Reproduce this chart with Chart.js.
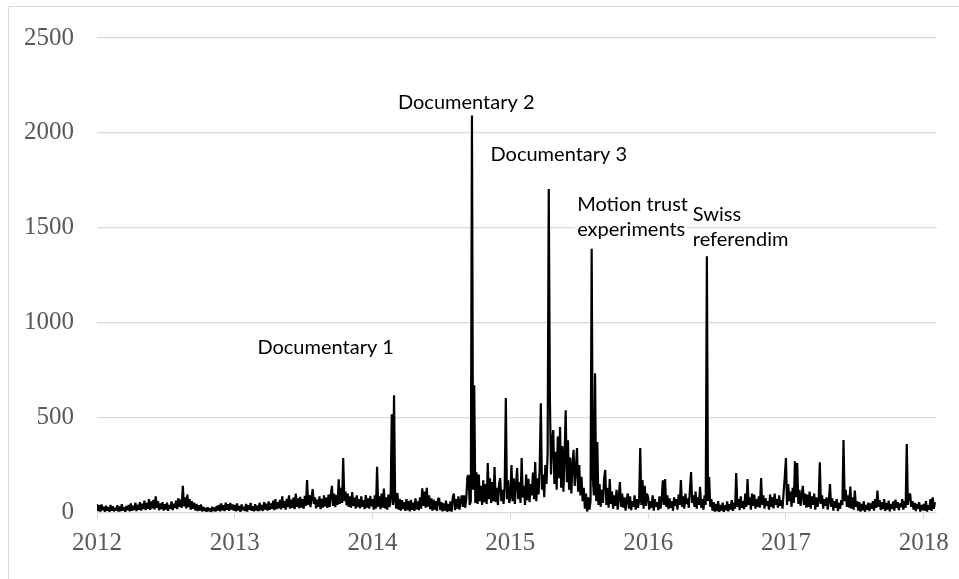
<!DOCTYPE html>
<html>
<head>
<meta charset="utf-8">
<script src="https://cdn.jsdelivr.net/npm/chart.js@4/dist/chart.umd.min.js"></script>
<style>
  html, body { margin: 0; padding: 0; background: #fff; }
  #frame { position: absolute; left: 8px; top: 6px; width: 960px; height: 590px; border: 1px solid #d9d9d9; }
  #chart { position: absolute; left: 0; top: 0; }
</style>
</head>
<body>
<div id="frame"></div>
<canvas id="chart" width="959" height="579"></canvas>
<script>
// roughly every third day, 122 readings per year
const PER_YEAR = 122;
const years = [2012, 2013, 2014, 2015, 2016, 2017, 2018];

const v2012 = [
  45, 8, 38, 5, 42, 12, 30, 4, 36, 10,
  28, 3, 40, 9, 33, 6, 25, 11, 38, 5,
  31, 7, 44, 10, 27, 4, 35, 12, 40, 6,
  48, 9, 36, 14, 52, 8, 41, 15, 55, 10,
  46, 18, 62, 12, 50, 20, 70, 14, 58, 22,
  66, 16, 85, 25, 60, 12, 48, 18, 55, 10,
  44, 15, 52, 9, 40, 20, 58, 13, 47, 24,
  62, 18, 75, 30, 68, 25, 140, 32, 80, 22,
  95, 28, 70, 15, 60, 20, 52, 12, 45, 8,
  38, 10, 42, 6, 30, 9, 25, 4, 28, 7,
  22, 3, 30, 8, 26, 5, 35, 10, 40, 6,
  48, 12, 38, 8, 52, 14, 44, 9, 50, 16, 42, 10
];
const v2013 = [
  40, 6, 48, 10, 35, 4, 42, 12, 30, 8,
  45, 5, 38, 14, 50, 9, 33, 6, 44, 11,
  36, 7, 52, 12, 40, 8, 55, 15, 46, 10,
  58, 14, 48, 20, 62, 12, 70, 18, 55, 22,
  66, 16, 85, 24, 60, 15, 72, 28, 90, 20,
  68, 25, 78, 18, 100, 30, 74, 22, 82, 26,
  70, 20, 88, 35, 171, 40, 92, 28, 76, 124,
  45, 80, 22, 68, 30, 85, 18, 72, 26, 90,
  32, 78, 24, 95, 30, 86, 140, 35, 100, 28,
  92, 40, 175, 45, 130, 50, 287, 60, 110, 38,
  100, 30, 85, 25, 108, 35, 78, 20, 90, 28,
  70, 22, 85, 30, 65, 18, 92, 26, 75, 20, 88, 32
];
const v2014 = [
  70, 15, 90, 20, 241, 30, 85, 18, 100, 25,
  126, 22, 80, 15, 95, 28, 70, 518, 40, 618,
  60, 20, 103, 15, 72, 10, 65, 18, 55, 8,
  70, 12, 60, 6, 66, 14, 52, 9, 75, 16,
  58, 12, 80, 20, 128, 35, 110, 25, 130, 30,
  90, 18, 75, 10, 68, 15, 60, 8, 72, 75,
  12, 55, 6, 48, 10, 62, 4, 45, 8, 58,
  5, 80, 100, 12, 70, 20, 85, 15, 60, 90,
  30, 90, 25, 75, 188, 197, 40, 60, 2092, 120,
  671, 50, 212, 45, 200, 60, 140, 40, 170, 55,
  150, 45, 260, 70, 180, 50, 160, 60, 240, 55,
  130, 40, 150, 181, 60, 120, 45, 140, 603, 70, 170, 50
];
const v2015 = [
  80, 250, 60, 180, 45, 150, 234, 70, 160, 50,
  287, 80, 140, 40, 200, 65, 177, 55, 150, 90,
  210, 70, 266, 60, 180, 95, 240, 576, 120, 200,
  80, 250, 150, 310, 1705, 608, 200, 380, 434, 150,
  320, 120, 400, 180, 450, 130, 350, 110, 300, 539,
  160, 380, 120, 290, 100, 250, 330, 140, 220, 340,
  110, 250, 90, 188, 60, 130, 20, 100, 5, 80,
  15, 60, 1390, 180, 90, 734, 60, 371, 40, 150,
  30, 120, 50, 180, 224, 40, 130, 25, 176, 45,
  110, 20, 90, 35, 120, 15, 80, 160, 30, 100,
  25, 80, 10, 70, 100, 20, 85, 12, 60, 30,
  90, 15, 70, 25, 60, 340, 40, 171, 20, 140, 35, 100
];
const v2016 = [
  80, 15, 60, 25, 90, 10, 70, 30, 55, 12,
  85, 20, 65, 170, 40, 176, 30, 90, 18, 75,
  25, 60, 10, 80, 35, 70, 15, 95, 40, 171,
  30, 85, 20, 100, 45, 75, 25, 120, 213, 50,
  90, 30, 110, 20, 80, 40, 135, 25, 70, 15,
  90, 40, 1350, 60, 187, 30, 70, 10, 55, 5,
  45, 8, 60, 3, 40, 10, 52, 4, 38, 12,
  58, 6, 44, 15, 65, 9, 50, 20, 208, 30,
  70, 12, 85, 25, 60, 18, 100, 30, 176, 40,
  80, 15, 100, 35, 95, 20, 70, 30, 85, 25,
  182, 40, 90, 20, 75, 35, 60, 15, 95, 30,
  80, 22, 100, 40, 70, 25, 90, 35, 65, 20, 110, 187
];
const v2017 = [
  287, 40, 150, 60, 110, 30, 130, 50, 270, 80,
  260, 45, 120, 35, 90, 140, 40, 100, 25, 95,
  30, 110, 20, 85, 40, 100, 15, 80, 30, 60,
  265, 45, 90, 20, 70, 35, 80, 15, 60, 150,
  30, 75, 10, 60, 25, 70, 8, 50, 20, 65,
  40, 382, 60, 120, 30, 90, 25, 137, 20, 80,
  15, 115, 30, 60, 10, 55, 5, 45, 12, 58,
  4, 40, 15, 52, 8, 48, 20, 60, 10, 70,
  25, 115, 30, 65, 12, 55, 18, 70, 8, 50,
  15, 62, 6, 45, 20, 58, 10, 68, 25, 55,
  12, 48, 30, 70, 15, 60, 25, 361, 40, 90,
  100, 30, 60, 15, 50, 8, 45, 20, 55, 5, 40, 12
];
const v2018 = [45, 10, 60, 5, 38, 15, 70, 8, 80, 20, 55];

const yTicks = [0, 500, 1000, 1500, 2000, 2500];
const xTicks = [2012, 2013, 2014, 2015, 2016, 2017, 2018];

const eventLabels = ['Documentary 1', 'Documentary 2', 'Documentary 3', 'Motion trust', 'experiments', 'Swiss', 'referendim'];
const eventX = [2013.164, 2014.184, 2014.856, 2015.485, 2015.485, 2016.324, 2016.324];
const eventY = [871, 2160, 1887, 1621, 1489, 1571, 1437];
const eventBoxed = [false, false, false, false, true, false, false];

const yearVals = [v2012, v2013, v2014, v2015, v2016, v2017, v2018];
const points = years.flatMap((yr, k) => yearVals[k].map((v, i) => ({ x: yr + i / PER_YEAR, y: v })));

const eventLabelPlugin = {
  id: 'eventLabels',
  afterDraw(chart) {
    const { ctx, scales } = chart;
    ctx.save();
    ctx.font = '20px Lato, "Open Sans", sans-serif';
    ctx.textAlign = 'left';
    ctx.textBaseline = 'middle';
    eventLabels.forEach((txt, i) => {
      const px = scales.x.getPixelForValue(eventX[i]);
      const py = scales.y.getPixelForValue(eventY[i]);
      if (eventBoxed[i]) {
        const w = ctx.measureText(txt).width;
        ctx.fillStyle = '#fff';
        ctx.fillRect(px - 2, py - 9, w + 4, 18);
      }
      ctx.fillStyle = '#000';
      ctx.fillText(txt, px, py);
    });
    ctx.restore();
  }
};

const tickFont = { family: '"Liberation Serif", "Times New Roman", serif', size: 25 };

new Chart(document.getElementById('chart'), {
  type: 'line',
  data: {
    datasets: [{
      data: points,
      borderColor: '#000',
      borderWidth: 2.2,
      borderJoinStyle: 'bevel',
      pointRadius: 0,
      tension: 0,
      fill: false
    }]
  },
  options: {
    responsive: false,
    animation: false,
    events: [],
    layout: { padding: { top: 37, right: 19, left: 0, bottom: 0 } },
    plugins: { legend: { display: false }, tooltip: { enabled: false } },
    scales: {
      x: {
        type: 'linear',
        min: 2012,
        max: 2018.095,
        afterBuildTicks: s => { s.ticks = xTicks.map(v => ({ value: v })); },
        afterFit: s => { s.height = 66.5; },
        border: { display: false },
        grid: { drawOnChartArea: false, drawTicks: true, tickLength: 6, color: '#d9d9d9' },
        ticks: { color: '#595959', font: tickFont, padding: 10, maxRotation: 0, callback: v => String(v) }
      },
      y: {
        min: 0,
        max: 2500,
        afterBuildTicks: s => { s.ticks = yTicks.map(v => ({ value: v })); },
        afterFit: s => { s.width = 97; },
        border: { display: false },
        grid: { color: '#d9d9d9', lineWidth: 1.2, drawTicks: false },
        ticks: { color: '#595959', font: tickFont, padding: 23, callback: v => String(v) }
      }
    }
  },
  plugins: [eventLabelPlugin]
});
</script>
</body>
</html>
